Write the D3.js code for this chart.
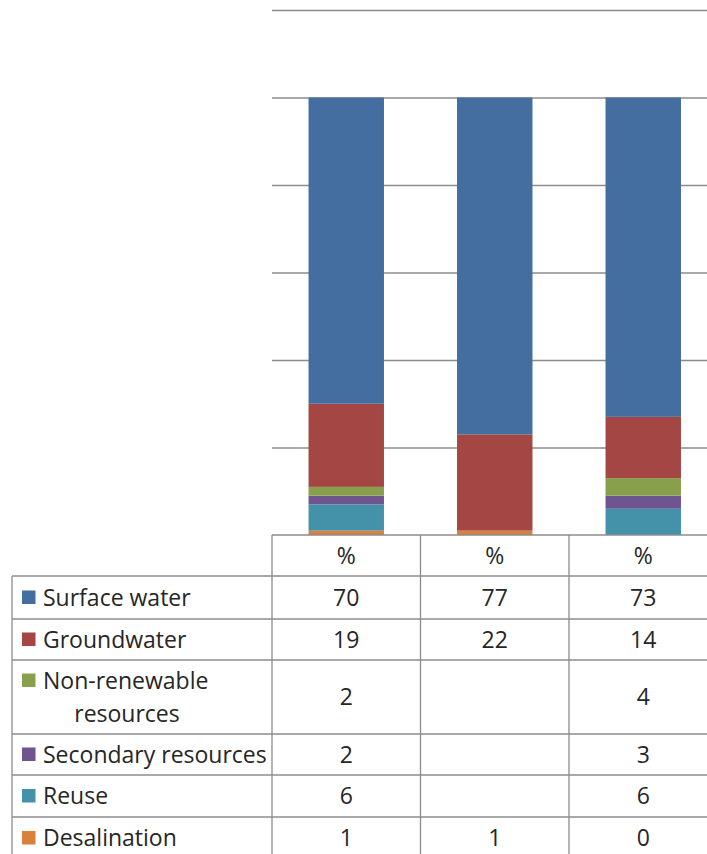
<!DOCTYPE html>
<html>
<head>
<meta charset="utf-8">
<script src="https://cdn.jsdelivr.net/npm/d3@7"></script>
<style>
  html, body { margin: 0; padding: 0; background: #ffffff; }
  svg { display: block; }
</style>
</head>
<body>
<svg id="chart" width="707" height="854"></svg>
<script>
// Column headers of the data table (one per bar)
const columnHeaders = ["%", "%", "%"];

// Series, bottom of the stack first
const seriesNames = ["Desalination", "Reuse", "Secondary resources", "Non-renewable resources", "Groundwater", "Surface water"];
const seriesColors = ["#d9803c", "#4492a9", "#6e5590", "#88a04c", "#a44643", "#436e9f"];

// Share of each source (%), per column; null = no value
const desalination = [1, 1, 0];
const reuse = [6, null, 6];
const secondaryResources = [2, null, 3];
const nonRenewable = [2, null, 4];
const groundwater = [19, 22, 14];
const surfaceWater = [70, 77, 73];

// Value axis ticks (labels not shown)
const yTicks = [0, 20, 40, 60, 80, 100, 120];

const seriesValues = [desalination, reuse, secondaryResources, nonRenewable, groundwater, surfaceWater];

const svg = d3.select("#chart");
const FONT = "'Open Sans', 'Noto Sans', sans-serif";
const textColor = "#262626";
const lineColor = "#8c8c8c";

// Plot geometry
const plotLeft = 272, plotRight = 717.5, plotTop = 10, plotBottom = 535;

const x = d3.scaleBand()
  .domain(d3.range(columnHeaders.length))
  .range([plotLeft, plotRight])
  .padding(0);

const y = d3.scaleLinear()
  .domain([0, 120])
  .range([plotBottom, plotTop]);

const barWidth = x.bandwidth() * 0.508;

// Horizontal gridlines
const grid = svg.append("g")
  .attr("transform", `translate(${plotLeft},0)`)
  .call(d3.axisLeft(y).tickValues(yTicks.filter(t => t > 0)).tickSize(-(707 - plotLeft)).tickFormat(""));
grid.select(".domain").remove();
grid.selectAll(".tick line").attr("stroke", lineColor).attr("stroke-width", 1.3);

// Stacked bars
const rows = columnHeaders.map((h, i) => {
  const r = { idx: i };
  seriesNames.forEach((s, k) => { r[s] = seriesValues[k][i] == null ? 0 : seriesValues[k][i]; });
  return r;
});
const stacked = d3.stack().keys(seriesNames)(rows);

svg.append("g").selectAll("g")
  .data(stacked)
  .join("g")
  .attr("fill", (d, k) => seriesColors[k])
  .selectAll("rect")
  .data(d => d)
  .join("rect")
  .attr("x", d => x(d.data.idx) + (x.bandwidth() - barWidth) / 2)
  .attr("width", barWidth)
  .attr("y", d => y(d[1]))
  .attr("height", d => y(d[0]) - y(d[1]));

// Data table under the plot
const tableLeft = 12;
const fontSize = 23;
const baseShift = 8;
const headerTop = plotBottom, headerHeight = 41;
const rowLines = [
  { name: "Surface water", lines: ["Surface water"], h: 43, k: 5 },
  { name: "Groundwater", lines: ["Groundwater"], h: 41, k: 4 },
  { name: "Non-renewable resources", lines: ["Non-renewable", "resources"], h: 74, k: 3 },
  { name: "Secondary resources", lines: ["Secondary resources"], h: 41, k: 2 },
  { name: "Reuse", lines: ["Reuse"], h: 42, k: 1 },
  { name: "Desalination", lines: ["Desalination"], h: 42, k: 0 }
];
let yy = headerTop + headerHeight;
rowLines.forEach(r => { r.top = yy; yy += r.h; r.bottom = yy; });
const tableBottom = yy;

const table = svg.append("g")
  .attr("font-family", FONT)
  .attr("font-size", fontSize)
  .attr("fill", textColor);

const hline = (x1, x2, yv) => table.append("line")
  .attr("x1", x1).attr("x2", x2).attr("y1", yv).attr("y2", yv)
  .attr("stroke", lineColor).attr("stroke-width", 1.3);
const vline = (xv, y1, y2) => table.append("line")
  .attr("x1", xv).attr("x2", xv).attr("y1", y1).attr("y2", y2)
  .attr("stroke", lineColor).attr("stroke-width", 1.3);

// Header row
hline(plotLeft, 707, headerTop);
columnHeaders.forEach((h, i) => {
  table.append("text")
    .attr("x", x(i) + x.bandwidth() / 2)
    .attr("y", headerTop + headerHeight / 2 + baseShift)
    .attr("text-anchor", "middle")
    .text(h);
});

// Body rows
hline(tableLeft, 707, headerTop + headerHeight);
rowLines.forEach(r => {
  hline(tableLeft, 707, r.bottom);
  const mid = (r.top + r.bottom) / 2;
  const lineGap = 33;
  const firstBase = mid + baseShift - (r.lines.length - 1) * lineGap / 2;
  // legend swatch
  table.append("rect")
    .attr("x", 22).attr("y", firstBase - 15)
    .attr("width", 13.5).attr("height", 13.5)
    .attr("fill", seriesColors[r.k]);
  r.lines.forEach((ln, j) => {
    table.append("text")
      .attr("x", j === 0 ? 43 : 127)
      .attr("y", firstBase + j * lineGap)
      .attr("text-anchor", j === 0 ? "start" : "middle")
      .text(ln);
  });
  seriesValues[r.k].forEach((v, i) => {
    if (v == null) return;
    table.append("text")
      .attr("x", x(i) + x.bandwidth() / 2)
      .attr("y", mid + baseShift)
      .attr("text-anchor", "middle")
      .text(v);
  });
});

// Vertical cell borders
vline(tableLeft, headerTop + headerHeight, tableBottom);
d3.range(columnHeaders.length).forEach(i => vline(x(i), headerTop, tableBottom));
vline(plotRight, headerTop, tableBottom);
</script>
</body>
</html>
